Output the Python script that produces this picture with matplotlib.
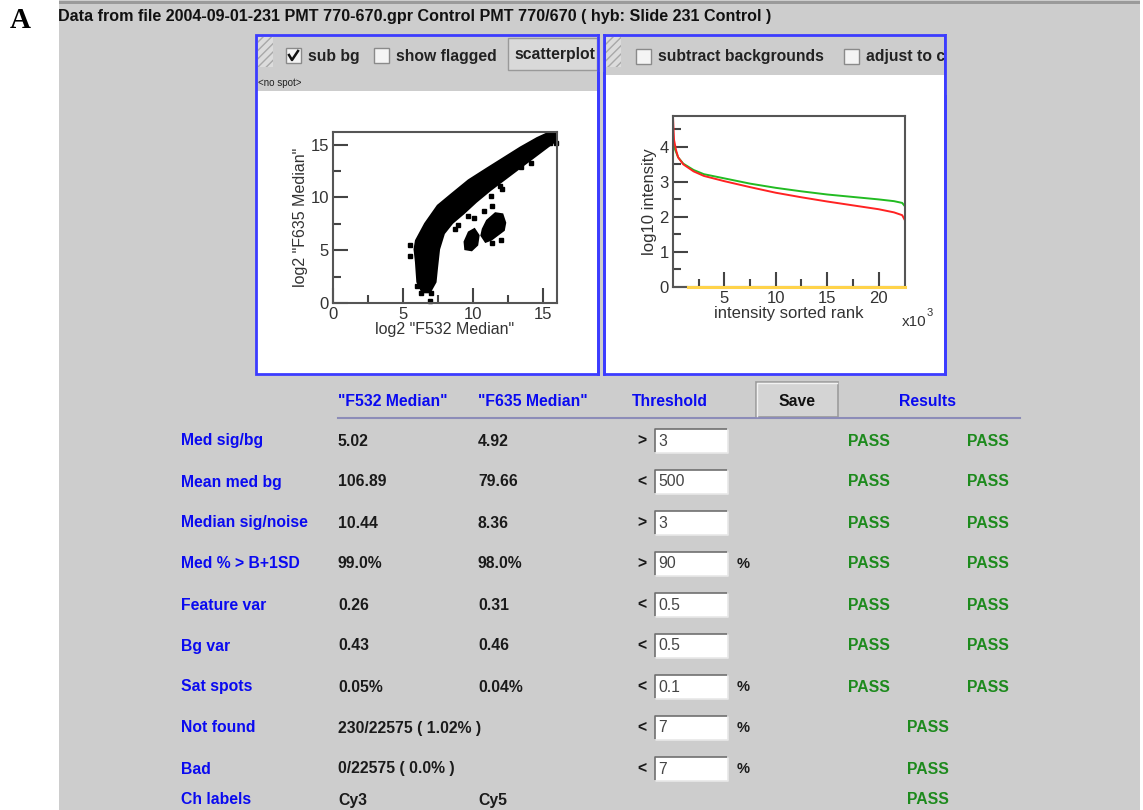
import matplotlib.pyplot as plt
from matplotlib.patches import Rectangle

# scatter: log2 F635 vs log2 F532, dense band drawn as outlines + stray spots
band_x = [5.95, 6.6, 7.5, 8.5, 9.7, 11.0, 12.2, 13.4, 14.6, 15.5, 15.95,
          15.9, 14.8, 13.6, 12.4, 11.2, 10.2, 9.3, 8.5, 7.9, 7.55, 7.4,
          7.3, 6.9, 6.4, 6.05, 5.95, 5.85]
band_y = [5.9, 7.5, 9.2, 10.3, 11.6, 12.7, 13.7, 14.7, 15.6, 16.15, 16.2,
          15.4, 14.3, 13.1, 11.9, 10.7, 9.6, 8.5, 7.6, 6.6, 5.1, 3.3,
          2.0, 1.05, 1.05, 2.0, 3.9, 5.1]
island1_x = [10.7, 11.0, 11.6, 12.1, 12.3, 12.2, 11.8, 11.3, 10.9, 10.6]
island1_y = [7.0, 7.8, 8.5, 8.4, 7.6, 6.9, 6.5, 6.0, 5.8, 6.4]
island2_x = [9.45, 9.4, 9.7, 10.1, 10.4, 10.3, 9.9]
island2_y = [5.1, 5.8, 6.7, 7.0, 6.4, 5.5, 5.0]
spots_x = [5.48, 5.52, 6.3, 7.0, 6.9, 9.64, 10.1, 10.8, 11.3, 11.36, 12.07, 11.9,
           13.45, 14.17, 15.5, 15.4, 8.7, 8.9, 11.36, 12.0, 15.9, 6.0, 6.8]
spots_y = [5.47, 4.49, 0.95, 0.95, 0.16, 8.2, 8.1, 8.7, 10.1, 9.2, 10.8, 11.1,
           12.9, 13.3, 15.2, 15.9, 7.0, 7.4, 5.7, 6.0, 15.2, 1.6, 1.9]

# sorted-rank intensity curves (rank in thousands)
rank = [0.0, 0.1, 0.3, 0.5, 1.0, 2.0, 3.0, 5.0, 7.5, 10.0, 12.5, 15.0, 17.5,
        20.0, 21.5, 22.3, 22.575]
red_log = [4.85, 4.2, 3.9, 3.7, 3.5, 3.3, 3.17, 3.02, 2.85, 2.69, 2.56, 2.44,
           2.33, 2.22, 2.13, 2.05, 1.9]
green_log = [4.2, 4.0, 3.85, 3.7, 3.52, 3.34, 3.22, 3.1, 2.95, 2.83, 2.73, 2.64,
             2.57, 2.5, 2.45, 2.4, 2.3]
floor_rank = [1.5, 22.575]
floor_log = [0, 0]

# QC table
metrics = ["Med sig/bg", "Mean med bg", "Median sig/noise", "Med % > B+1SD",
           "Feature var", "Bg var", "Sat spots", "Not found", "Bad", "Ch labels"]
f532 = ["5.02", "106.89", "10.44", "99.0%", "0.26", "0.43", "0.05%",
        "230/22575 ( 1.02% )", "0/22575 ( 0.0% )", "Cy3"]
f635 = ["4.92", "79.66", "8.36", "98.0%", "0.31", "0.46", "0.04%", "", "", "Cy5"]
ops = [">", "<", ">", ">", "<", "<", "<", "<", "<", ""]
thresholds = ["3", "500", "3", "90", "0.5", "0.5", "0.1", "7", "7", ""]
units = ["", "", "", "%", "", "", "%", "%", "%", ""]
results = [("PASS", "PASS")] * 7 + [("PASS",)] * 3
headers = ['"F532 Median"', '"F635 Median"', "Threshold", "Results"]

BG = "#cdcdcd"
BLUE = "#0a0af0"
GREEN = "#1d8a1d"
SANS = "Liberation Sans"
FS = 11.3

fig = plt.figure(figsize=(11.43, 8.10), dpi=100, facecolor="white")
gui = fig.add_axes([0, 0, 1, 1])
gui.set_xlim(0, 1143)
gui.set_ylim(810, 0)
gui.axis("off")

# window background
gui.add_patch(Rectangle((59, 0), 1081, 810, facecolor=BG, edgecolor="none"))
gui.add_patch(Rectangle((59, 1), 1081, 3, facecolor="#9a9a9a", edgecolor="none"))
gui.text(20, 20, "A", fontsize=21, family="Liberation Serif", weight="bold",
         ha="center", va="center")
gui.text(58, 17, "Data from file 2004-09-01-231 PMT 770-670.gpr Control PMT 770/670 "
         "( hyb: Slide 231 Control )", fontsize=11.6, family=SANS, weight="bold",
         va="center", color="#111111")


def checkbox(x, y, checked=False):
    gui.add_patch(Rectangle((x, y), 15, 15, facecolor="#f4f4f4", edgecolor="#8a8a8a", lw=1))
    if checked:
        gui.plot([x + 3, x + 6, x + 12], [y + 7, y + 12, y + 3], color="#111111", lw=1.8)


def panel(x0, x1, y0, y1, bar_bottom):
    gui.add_patch(Rectangle((x0, y0), x1 - x0, y1 - y0, facecolor="white",
                            edgecolor="none"))
    gui.add_patch(Rectangle((x0, y0), x1 - x0, bar_bottom - y0, facecolor=BG,
                            edgecolor="none"))
    gui.add_patch(Rectangle((x0 + 2, y0 + 2), 15, 30, facecolor="#dcdcdc",
                            edgecolor="#a8a8a8", lw=0, hatch="////"))
    gui.add_patch(Rectangle((x0, y0), x1 - x0, y1 - y0, facecolor="none",
                            edgecolor="#3c3cff", lw=2))


# left panel: scatterplot toolbar
panel(256, 598, 35, 374, 91)
checkbox(286, 48, checked=True)
gui.text(308, 56, "sub bg", fontsize=FS, family=SANS, weight="bold", va="center", color="#222222")
checkbox(374, 48)
gui.text(396, 56, "show flagged", fontsize=FS, family=SANS, weight="bold", va="center", color="#222222")
gui.add_patch(Rectangle((508, 38), 89, 32, facecolor="#d9d9d9", edgecolor="#999999", lw=1))
gui.text(514, 55, "scatterplot", fontsize=FS, family=SANS, weight="bold", va="center",
         color="#222222")
gui.text(258, 83, "<no spot>", fontsize=7, family=SANS, va="center", color="#222222")

# right panel: intensity curves toolbar
panel(604, 945, 35, 374, 75)
checkbox(636, 49)
gui.text(658, 57, "subtract backgrounds", fontsize=FS, family=SANS, weight="bold",
         va="center", color="#222222")
checkbox(844, 49)
gui.text(866, 57, "adjust to c", fontsize=FS, family=SANS, weight="bold", va="center",
         color="#222222")
gui.add_patch(Rectangle((945, 35), 25, 60, facecolor=BG, edgecolor="none", zorder=3))
gui.add_patch(Rectangle((597, 36), 8, 36, facecolor=BG, edgecolor="none", zorder=3))
gui.plot([945, 945], [35, 374], color="#3c3cff", lw=2, zorder=4)
gui.plot([598, 598], [35, 374], color="#3c3cff", lw=2, zorder=4)
gui.plot([604, 604], [35, 374], color="#3c3cff", lw=2, zorder=4)

# scatter axes
ax1 = fig.add_axes([333 / 1143, (810 - 303) / 810, 224 / 1143, 171 / 810])
ax1.fill(band_x, band_y, color="black", lw=2, edgecolor="black")
ax1.fill(island1_x, island1_y, color="black", lw=1.5, edgecolor="black")
ax1.fill(island2_x, island2_y, color="black", lw=1.5, edgecolor="black")
ax1.plot(spots_x, spots_y, "s", color="black", ms=2.8, clip_on=False)
ax1.set_xlim(0, 16)
ax1.set_ylim(0, 16.2)
ax1.set_xticks([0, 5, 10, 15])
ax1.set_yticks([0, 5, 10, 15])
ax1.set_xticks([2.5, 7.5, 12.5], minor=True)
ax1.set_yticks([2.5, 7.5, 12.5], minor=True)
ax1.set_xlabel('log2 "F532 Median"', fontsize=11.5, family=SANS, color="#333333", labelpad=0)
ax1.set_ylabel('log2 "F635 Median"', fontsize=11.5, family=SANS, color="#333333", labelpad=2)

# intensity axes
ax2 = fig.add_axes([673 / 1143, (810 - 287) / 810, 232 / 1143, 171 / 810])
ax2.plot(floor_rank, floor_log, color="#ffd34a", lw=2.2, clip_on=False, zorder=3)
ax2.plot(rank, green_log, color="#22bb22", lw=1.4)
ax2.plot(rank, red_log, color="#ff2222", lw=1.4)
ax2.set_xlim(0, 22.575)
ax2.set_ylim(0, 4.88)
ax2.set_xticks([5, 10, 15, 20])
ax2.set_xticks([2.5, 7.5, 12.5, 17.5], minor=True)
ax2.set_yticks([0, 1, 2, 3, 4])
ax2.set_yticks([0.5, 1.5, 2.5, 3.5, 4.5], minor=True)
ax2.set_xlabel("intensity sorted rank", fontsize=12, family=SANS, color="#333333", labelpad=0)
ax2.set_ylabel("log10 intensity", fontsize=12, family=SANS, color="#333333", labelpad=2)
gui.text(902, 322, "x10", fontsize=11, family=SANS, color="#333333", va="center")
gui.text(927, 313, "3", fontsize=8, family=SANS, color="#333333", va="center")

for ax in (ax1, ax2):
    for s in ax.spines.values():
        s.set_color("#555555")
        s.set_linewidth(1.5)
    ax.tick_params(which="major", direction="in", length=11, width=1.5, color="#444444",
                   labelsize=12, labelcolor="#333333", pad=3)
    ax.tick_params(which="minor", direction="in", length=6, width=1.5, color="#444444")
    for lab in ax.get_xticklabels() + ax.get_yticklabels():
        lab.set_family(SANS)

# table header
hdr_x = [338, 478, 632, 899]
for x, h in zip(hdr_x, headers):
    gui.text(x, 401, h, fontsize=FS, family=SANS, weight="bold", color=BLUE, va="center")
gui.plot([338, 1020], [418, 418], color="#8c8cb8", lw=1.5)
gui.add_patch(Rectangle((756, 382), 82, 35, facecolor="#d4d4d4", edgecolor="#9c9c9c", lw=1.2))
gui.plot([757, 757, 837], [416, 383, 383], color="#f2f2f2", lw=1)
gui.text(797, 401, "Save", fontsize=FS, family=SANS, weight="bold", color="#111111",
         ha="center", va="center")

row_y = [441, 482, 523, 564, 605, 646, 687, 728, 769, 800]
for i, y in enumerate(row_y):
    gui.text(181, y, metrics[i], fontsize=FS, family=SANS, weight="bold", color=BLUE, va="center")
    gui.text(338, y, f532[i], fontsize=FS, family=SANS, weight="bold", color="#1a1a1a", va="center")
    gui.text(478, y, f635[i], fontsize=FS, family=SANS, weight="bold", color="#1a1a1a", va="center")
    if thresholds[i]:
        gui.text(637, y, ops[i], fontsize=FS, family=SANS, weight="bold", color="#1a1a1a", va="center")
        gui.add_patch(Rectangle((655, y - 12), 73, 24, facecolor="white", edgecolor="none"))
        gui.plot([655, 655, 728], [y + 12, y - 12, y - 12], color="#707070", lw=1.2)
        gui.plot([655, 728, 728], [y + 12, y + 12, y - 12], color="#e8e8e8", lw=1.2)
        gui.text(658, y, thresholds[i], fontsize=FS, family=SANS, color="#444444", va="center")
    if units[i]:
        gui.text(737, y, units[i], fontsize=10.5, family=SANS, weight="bold", color="#1a1a1a", va="center")
    res = results[i]
    res_x = [848, 967] if len(res) == 2 else [907]
    for x, r in zip(res_x, res):
        gui.text(x, y, r, fontsize=FS, family=SANS, weight="bold", color=GREEN, va="center")

fig.savefig("out.png", dpi=100, facecolor="white")
